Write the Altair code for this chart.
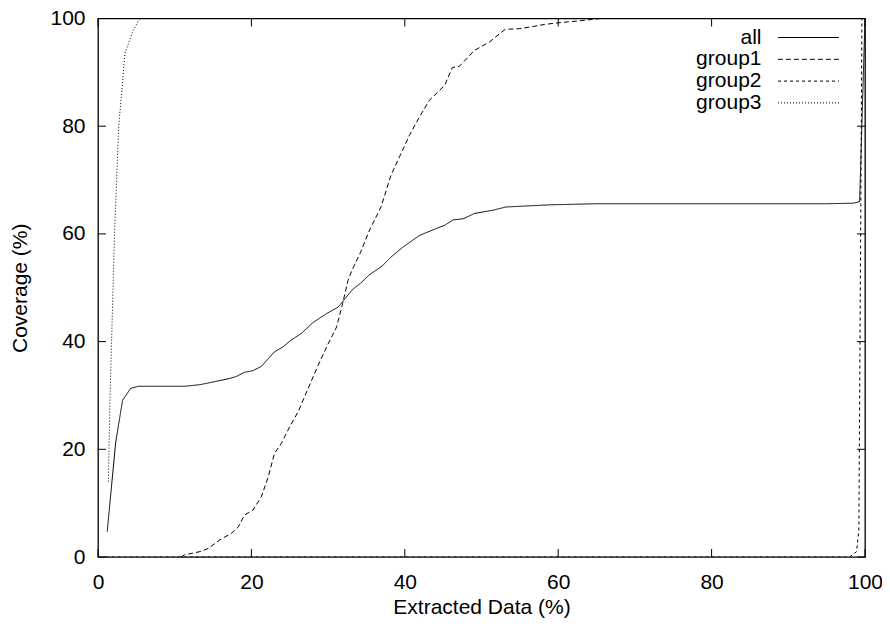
import altair as alt
import pandas as pd

# ---- data ----
series = ["all", "group1", "group2", "group3"]

all_x = [1.2, 2.3, 3.2, 4.25, 5.25, 8, 11.3, 13.3, 15, 17, 18, 19.1, 20.2, 21.3, 23.0, 24.1, 25.2,
         26.5, 28.0, 29.8, 31.3, 33.2, 34.2, 35.3, 37.1, 38.2, 39.8, 41.9, 44.1, 45.2, 46.3, 47.6,
         49.1, 51.5, 53.2, 58.9, 65, 75, 85, 95, 98.5, 99.3, 100]
all_y = [4.7, 21.2, 29.1, 31.3, 31.7, 31.7, 31.7, 32.0, 32.5, 33.1, 33.5, 34.3, 34.6, 35.4, 38.1,
         39.0, 40.3, 41.5, 43.5, 45.2, 46.4, 49.7, 50.8, 52.3, 54.1, 55.7, 57.6, 59.7, 61.0, 61.6,
         62.6, 62.8, 63.8, 64.4, 65.0, 65.4, 65.6, 65.6, 65.6, 65.6, 65.7, 66.0, 100]

group1_x = [10.8, 11.3, 13.3, 14.4, 15.9, 17.4, 18.3, 19.1, 20.2, 21.3, 22.2, 23.0, 23.9, 25.0, 26.1,
            27.4, 28.7, 29.8, 31.1, 31.9, 32.6, 33.1, 34.2, 35.4, 36.9, 38.2, 39.3, 40.6, 41.9,
            43.2, 45.2, 46.2, 47.1, 49.1, 51.0, 53.1, 54.9, 56.7, 58.2, 60, 63, 65.5, 100]
group1_y = [0, 0.4, 1.0, 1.6, 3.2, 4.4, 5.6, 7.8, 8.7, 11.2, 14.9, 19.2, 21.1, 24.2, 27.0, 31.3,
            35.6, 39.0, 42.7, 47.1, 51.4, 53.2, 56.5, 60.7, 65.0, 70.9, 74.3, 78.3, 81.7, 84.8,
            87.6, 90.9, 91.1, 94.1, 95.6, 98.0, 98.1, 98.5, 98.9, 99.2, 99.6, 100, 100]

group2_x = [1, 98.0, 98.9, 99.2, 99.6, 100]
group2_y = [0, 0, 1, 5, 100, 100]

group3_x = [1.35, 1.55, 1.77, 2.15, 2.7, 3.2, 3.5, 4.5, 5.2, 5.6, 100]
group3_y = [14, 28.6, 40, 60, 80, 88.2, 93.5, 97.5, 99.4, 100, 100]

tick_values = [0, 20, 40, 60, 80, 100]

# ---- build table ----
rows = []
for name, xs_, ys_ in [("all", all_x, all_y), ("group1", group1_x, group1_y),
                       ("group2", group2_x, group2_y), ("group3", group3_x, group3_y)]:
    for i, (a, b) in enumerate(zip(xs_, ys_)):
        rows.append({"series": name, "i": i, "x": a, "y": b})
df = pd.DataFrame(rows)
ticks_df = pd.DataFrame({"tick": tick_values})

W, H = 767, 538.5
FONT = "Liberation Sans"
FS = 21
dashes = [[1, 0], [5, 3], [3, 3], [1, 2]]

xscale = alt.Scale(domain=[0, 100], nice=False, zero=False)
yscale = alt.Scale(domain=[0, 100], nice=False, zero=False)
common_axis = dict(format="d", domain=False, ticks=False, tickSize=0, grid=False, labelFlush=False,
                   labelFont=FONT, labelFontSize=FS, labelColor="black",
                   titleFont=FONT, titleFontSize=FS, titleColor="black", titleFontWeight="normal")
xaxis = alt.Axis(values=tick_values, labelPadding=14, titlePadding=4, **common_axis)
yaxis = alt.Axis(values=tick_values, labelPadding=13, titlePadding=19, **common_axis)
XT = "Extracted Data (%)"
YT = "Coverage (%)"

lines = alt.Chart(df).mark_line(color="black", strokeWidth=1, clip=True).encode(
    x=alt.X("x:Q", scale=xscale, axis=xaxis, title=XT),
    y=alt.Y("y:Q", scale=yscale, axis=yaxis, title=YT),
    detail="series:N",
    order="i:Q",
    strokeDash=alt.StrokeDash("series:N", scale=alt.Scale(domain=series, range=dashes), legend=None),
)

tick_len = 8
xt_bottom = alt.Chart(ticks_df).mark_rule(color="black", strokeWidth=1).encode(
    x=alt.X("tick:Q", scale=xscale, axis=xaxis, title=XT),
    y=alt.value(H), y2=alt.value(H - tick_len))
xt_top = alt.Chart(ticks_df).mark_rule(color="black", strokeWidth=1).encode(
    x=alt.X("tick:Q", scale=xscale, axis=xaxis, title=XT),
    y=alt.value(0), y2=alt.value(tick_len))
yt_left = alt.Chart(ticks_df).mark_rule(color="black", strokeWidth=1).encode(
    y=alt.Y("tick:Q", scale=yscale, axis=yaxis, title=YT),
    x=alt.value(0), x2=alt.value(tick_len))
yt_right = alt.Chart(ticks_df).mark_rule(color="black", strokeWidth=1).encode(
    y=alt.Y("tick:Q", scale=yscale, axis=yaxis, title=YT),
    x=alt.value(W), x2=alt.value(W - tick_len))

# ---- gnuplot-style key (label left of sample line) ----
legend_layers = []
key_text_x = 663.5
key_line_x0, key_line_x1 = 680, 741
key_y0, key_dy = 19, 21.8
for k, name in enumerate(series):
    yy = key_y0 + k * key_dy
    one = pd.DataFrame({"series": [name]})
    legend_layers.append(
        alt.Chart(one).mark_text(align="right", baseline="middle", font=FONT, fontSize=FS,
                                 color="black").encode(
            text="series:N", x=alt.value(key_text_x), y=alt.value(yy)))
    legend_layers.append(
        alt.Chart(one).mark_rule(color="black", strokeWidth=1, strokeDash=dashes[k]).encode(
            x=alt.value(key_line_x0), x2=alt.value(key_line_x1), y=alt.value(yy)))

chart = alt.layer(lines, xt_bottom, xt_top, yt_left, yt_right, *legend_layers).properties(
    width=W, height=H,
    autosize=alt.AutoSizeParams(type="none"),
    padding={"left": 90, "top": 10.5, "right": 17, "bottom": 62},
    background="white",
).configure_view(stroke="black", strokeWidth=1.3)

chart.save("out.html", embed_options={"renderer": "svg", "actions": False})
